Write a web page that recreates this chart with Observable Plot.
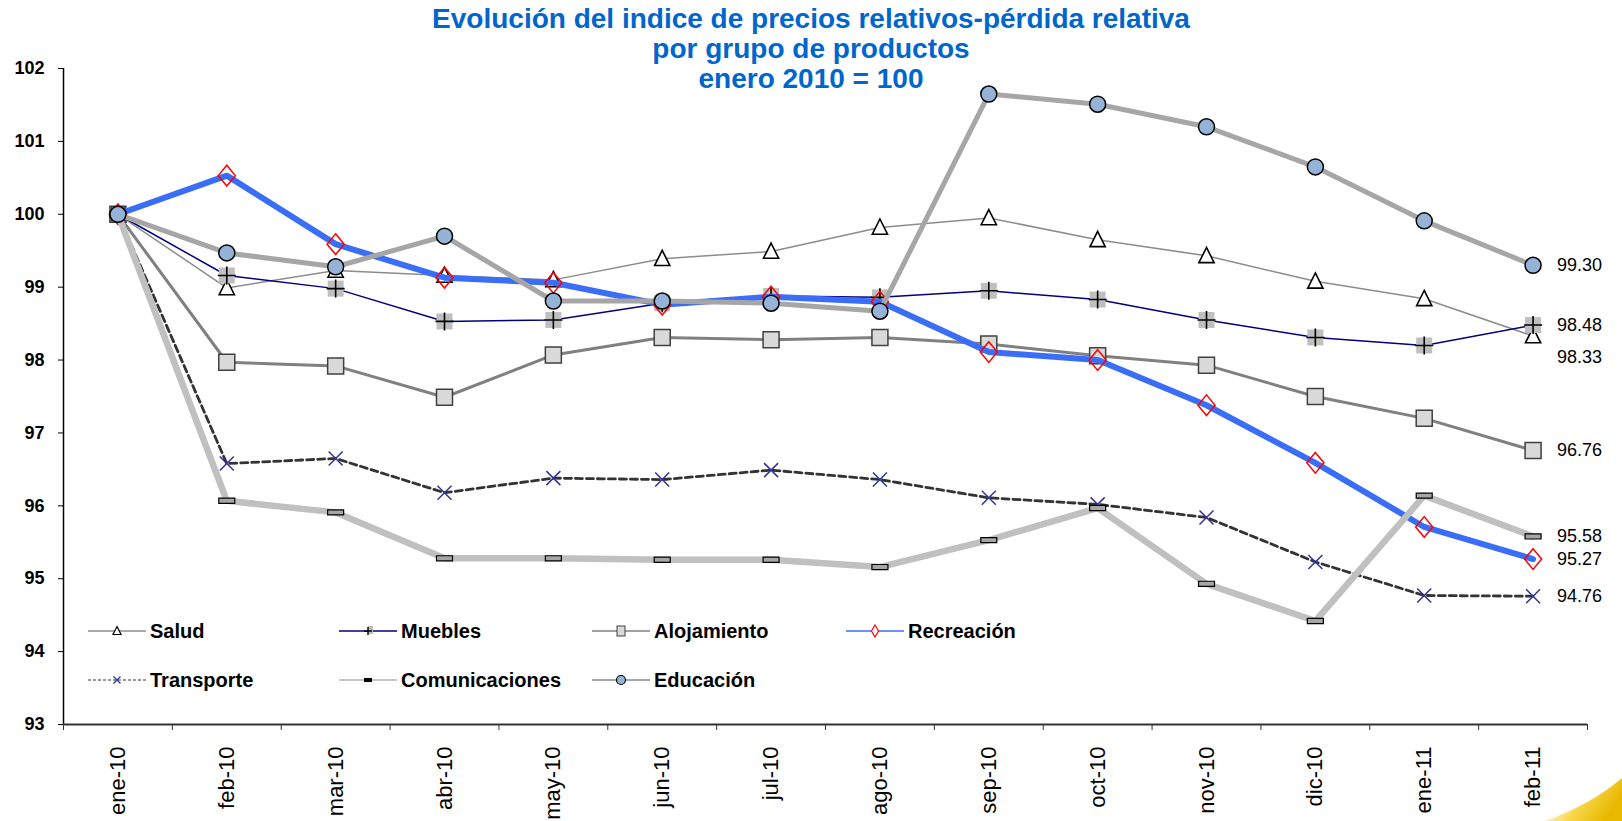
<!DOCTYPE html>
<html><head><meta charset="utf-8">
<script src="https://cdn.jsdelivr.net/npm/d3@7"></script>
<script src="https://cdn.jsdelivr.net/npm/@observablehq/plot@0.6"></script>
<style>
body{margin:0;background:#fff;width:1622px;height:821px;overflow:hidden;font-family:"Liberation Sans",Arial,sans-serif;}
#wrap{position:relative;width:1622px;height:821px;}
#chart{position:absolute;left:0;top:0;}
#title{position:absolute;left:0;top:4px;width:1622px;text-align:center;color:#0066cc;font-weight:bold;font-size:28px;line-height:30px;}
.lg{position:absolute;font-weight:bold;font-size:20px;color:#000;line-height:20px;white-space:nowrap;}
.lgs{position:absolute;}
#swoosh{position:absolute;left:0;top:0;}
</style></head><body>
<div id="wrap">
<div id="chart"></div>
<div id="title">Evolución del indice de precios relativos-pérdida relativa<br>por grupo de productos<br>enero 2010 = 100</div>
<div id="legend"></div>
</div>
<script>
const months = ["ene-10","feb-10","mar-10","abr-10","may-10","jun-10","jul-10","ago-10","sep-10","oct-10","nov-10","dic-10","ene-11","feb-11"];
const salud          = [100, 98.99, 99.23, 99.16, 99.10, 99.39, 99.49, 99.82, 99.95, 99.65, 99.43, 99.08, 98.84, 98.33];
const muebles        = [100, 99.16, 98.98, 98.53, 98.55, 98.78, 98.88, 98.86, 98.95, 98.83, 98.55, 98.31, 98.20, 98.48];
const alojamiento    = [100, 97.97, 97.92, 97.49, 98.07, 98.31, 98.28, 98.31, 98.22, 98.06, 97.93, 97.50, 97.20, 96.76];
const recreacion     = [100, 100.53, 99.59, 99.13, 99.06, 98.76, 98.87, 98.80, 98.11, 98.00, 97.38, 96.59, 95.71, 95.27];
const transporte     = [100, 96.58, 96.65, 96.18, 96.38, 96.36, 96.49, 96.36, 96.11, 96.02, 95.84, 95.23, 94.77, 94.76];
const comunicaciones = [100, 96.07, 95.91, 95.28, 95.28, 95.26, 95.26, 95.16, 95.53, 95.97, 94.93, 94.42, 96.14, 95.58];
const educacion      = [100, 99.47, 99.28, 99.70, 98.81, 98.81, 98.78, 98.67, 101.65, 101.51, 101.20, 100.65, 99.91, 99.30];
const yTicks = [93, 94, 95, 96, 97, 98, 99, 100, 101, 102];
const seriesNames = ["Salud","Muebles","Alojamiento","Recreación","Transporte","Comunicaciones","Educación"];

// custom symbols (size = area => r = sqrt(size/PI))
const R = s => Math.sqrt(s / Math.PI);
const triUp = {draw(c, s){const r = R(s); c.moveTo(0, -r*1.05); c.lineTo(r*0.95, r*0.85); c.lineTo(-r*0.95, r*0.85); c.closePath();}};
const sq = {draw(c, s){const r = R(s); c.rect(-r, -r, 2*r, 2*r);}};
const plusThin = {draw(c, s){const r = R(s); c.moveTo(-r, 0); c.lineTo(r, 0); c.moveTo(0, -r); c.lineTo(0, r);}};
const timesThin = {draw(c, s){const r = R(s); c.moveTo(-r, -r); c.lineTo(r, r); c.moveTo(r, -r); c.lineTo(-r, r);}};
const diamond = {draw(c, s){const r = R(s); c.moveTo(0, -r*1.15); c.lineTo(r*0.95, 0); c.lineTo(0, r*1.15); c.lineTo(-r*0.95, 0); c.closePath();}};
const bar = {draw(c, s){const r = R(s); c.rect(-r, -r*0.32, 2*r, r*0.64);}};

const rows = arr => arr.map((v, i) => ({i, v}));
const S = {
  salud: rows(salud), muebles: rows(muebles), aloj: rows(alojamiento), recre: rows(recreacion),
  trans: rows(transporte), comu: rows(comunicaciones), edu: rows(educacion)
};
const xy = {x: "i", y: "v"};

const lastLabels = [
  {v: educacion[13]}, {v: muebles[13]}, {v: alojamiento[13]}, {v: comunicaciones[13]},
  {v: recreacion[13]}, {v: transporte[13]}
];
const saludLabel = [{v: salud[13]}];

const chart = Plot.plot({
  width: 1622, height: 821,
  marginLeft: 63, marginRight: 35, marginTop: 68, marginBottom: 97,
  x: {domain: [-0.5, 13.5], axis: null},
  y: {domain: [93, 102], axis: null},
  style: {fontFamily: "'Liberation Sans', Arial, sans-serif", background: "transparent", color: "#000", overflow: "visible"},
  marks: [
    Plot.axisY(yTicks, {tickSize: 5, tickPadding: 14, tickFormat: d => String(d), label: null, fontSize: 18, fontWeight: "bold", stroke: "#000", fill: "#000"}),
    Plot.axisX(d3.range(15).map(k => k - 0.5), {tickSize: 6, fill: "none", label: null, stroke: "#333"}),
    Plot.axisX(d3.range(14), {tickSize: 0, tickPadding: 22, tickRotate: -90, tickFormat: k => months[k], label: null, fontSize: 22, fill: "#000"}),
    Plot.ruleX([-0.5], {stroke: "#000", strokeWidth: 1.5}),
    Plot.ruleY([93], {stroke: "#333", strokeWidth: 2}),

    // Salud
    Plot.line(S.salud, {...xy, stroke: "#8c8c8c", strokeWidth: 1.5}),
    Plot.dot(S.salud, {...xy, symbol: triUp, r: 8, fill: "#fff", stroke: "#000", strokeWidth: 1.6}),
    // Muebles
    Plot.line(S.muebles, {...xy, stroke: "#000080", strokeWidth: 1.5}),
    Plot.dot(S.muebles, {...xy, symbol: sq, r: 8, fill: "#bfbfbf", stroke: "none"}),
    Plot.dot(S.muebles, {...xy, symbol: plusThin, r: 9, stroke: "#000", strokeWidth: 1.6}),
    // Alojamiento
    Plot.line(S.aloj, {...xy, stroke: "#808080", strokeWidth: 3}),
    Plot.dot(S.aloj, {...xy, symbol: sq, r: 8, fill: "#d9d9d9", stroke: "#404040", strokeWidth: 1.5}),
    // Recreación
    Plot.line(S.recre, {...xy, stroke: "#3b6ef8", strokeWidth: 6}),
    Plot.dot(S.recre, {...xy, symbol: diamond, r: 9, fill: "none", stroke: "#ff0000", strokeWidth: 1.5}),
    // Transporte
    Plot.line(S.trans, {...xy, stroke: "#333", strokeWidth: 2.8, strokeDasharray: "7,4"}),
    Plot.dot(S.trans, {...xy, symbol: timesThin, r: 7, stroke: "#333399", strokeWidth: 1.5}),
    // Comunicaciones
    Plot.line(S.comu, {...xy, stroke: "#c0c0c0", strokeWidth: 6.5}),
    Plot.dot(S.comu, {...xy, symbol: bar, r: 8, fill: "#a6a6a6", stroke: "#000", strokeWidth: 1.2}),
    // Educación
    Plot.line(S.edu, {...xy, stroke: "#a6a6a6", strokeWidth: 5}),
    Plot.dot(S.edu, {...xy, r: 8, fill: "#95b3d7", stroke: "#000", strokeWidth: 1.5}),

    // end labels
    Plot.text(lastLabels, {x: () => 13, y: "v", text: d => d.v.toFixed(2), dx: 24, textAnchor: "start", fontSize: 18, fill: "#000"}),
    Plot.text(saludLabel, {x: () => 13, y: "v", text: d => d.v.toFixed(2), dx: 24, dy: 21, textAnchor: "start", fontSize: 18, fill: "#000"})
  ]
});
document.getElementById("chart").appendChild(chart);

// legend
const legendItems = [
  {name: seriesNames[0], stroke: "#8c8c8c", w: 1.5, dash: null, sym: "tri"},
  {name: seriesNames[1], stroke: "#000080", w: 1.5, dash: null, sym: "plus"},
  {name: seriesNames[2], stroke: "#808080", w: 1.5, dash: null, sym: "sq"},
  {name: seriesNames[3], stroke: "#3b6ef8", w: 1.5, dash: null, sym: "dia"},
  {name: seriesNames[4], stroke: "#333", w: 1, dash: "3,2", sym: "x"},
  {name: seriesNames[5], stroke: "#c8c8c8", w: 2, dash: null, sym: "bar"},
  {name: seriesNames[6], stroke: "#a6a6a6", w: 2, dash: null, sym: "circ"}
];
const colX = [88, 339, 592, 846];
const rowY = [631, 680];
const lg = document.getElementById("legend");
legendItems.forEach((it, k) => {
  const col = k % 4, row = Math.floor(k / 4);
  const x0 = colX[col], cy = rowY[row];
  const svg = d3.create("svg").attr("class", "lgs").attr("width", 60).attr("height", 20)
    .style("left", x0 + "px").style("top", (cy - 10) + "px");
  svg.append("line").attr("x1", 0).attr("x2", 58).attr("y1", 10).attr("y2", 10)
    .attr("stroke", it.stroke).attr("stroke-width", it.w).attr("stroke-dasharray", it.dash);
  const g = svg.append("g").attr("transform", "translate(29,10)");
  if (it.sym === "tri") g.append("path").attr("d", "M0,-4.5L4,3.5L-4,3.5Z").attr("fill", "#fff").attr("stroke", "#000").attr("stroke-width", 1.2);
  if (it.sym === "plus") { g.append("rect").attr("x", 0).attr("y", -5).attr("width", 5).attr("height", 8).attr("fill", "#bbb"); g.append("path").attr("d", "M-4,0H4M0,-4V4").attr("stroke", "#000").attr("stroke-width", 1.4); }
  if (it.sym === "sq") g.append("rect").attr("x", -4).attr("y", -5).attr("width", 8).attr("height", 10).attr("fill", "#d9d9d9").attr("stroke", "#404040");
  if (it.sym === "dia") g.append("path").attr("d", "M0,-6L3.5,0L0,6L-3.5,0Z").attr("fill", "#fff").attr("stroke", "#ff0000").attr("stroke-width", 1.2);
  if (it.sym === "x") g.append("path").attr("d", "M-3.5,-3.5L3.5,3.5M3.5,-3.5L-3.5,3.5").attr("stroke", "#333399").attr("stroke-width", 1.3);
  if (it.sym === "bar") g.append("rect").attr("x", -4).attr("y", -2).attr("width", 8).attr("height", 4).attr("fill", "#000");
  if (it.sym === "circ") g.append("circle").attr("r", 4.5).attr("fill", "#95b3d7").attr("stroke", "#000").attr("stroke-width", 1.2);
  lg.appendChild(svg.node());
  const t = document.createElement("div");
  t.className = "lg"; t.textContent = it.name;
  t.style.left = (x0 + 62) + "px"; t.style.top = (cy - 10) + "px";
  lg.appendChild(t);
});

// decorative corner swoosh
const sw = d3.create("svg").attr("id", "swoosh").attr("width", 1622).attr("height", 821).style("pointer-events", "none");
const grad = sw.append("defs").append("linearGradient").attr("id", "yg").attr("x1", "0").attr("y1", "0").attr("x2", "1").attr("y2", "0.4");
grad.append("stop").attr("offset", "0").attr("stop-color", "#fffbe0").attr("stop-opacity", 0.2);
grad.append("stop").attr("offset", "0.6").attr("stop-color", "#f7d84a");
grad.append("stop").attr("offset", "1").attr("stop-color", "#e8b800");
sw.append("path").attr("d", "M1545,821 Q1590,805 1622,778 L1622,821 Z").attr("fill", "url(#yg)");
document.getElementById("wrap").appendChild(sw.node());
</script>
</body></html>
